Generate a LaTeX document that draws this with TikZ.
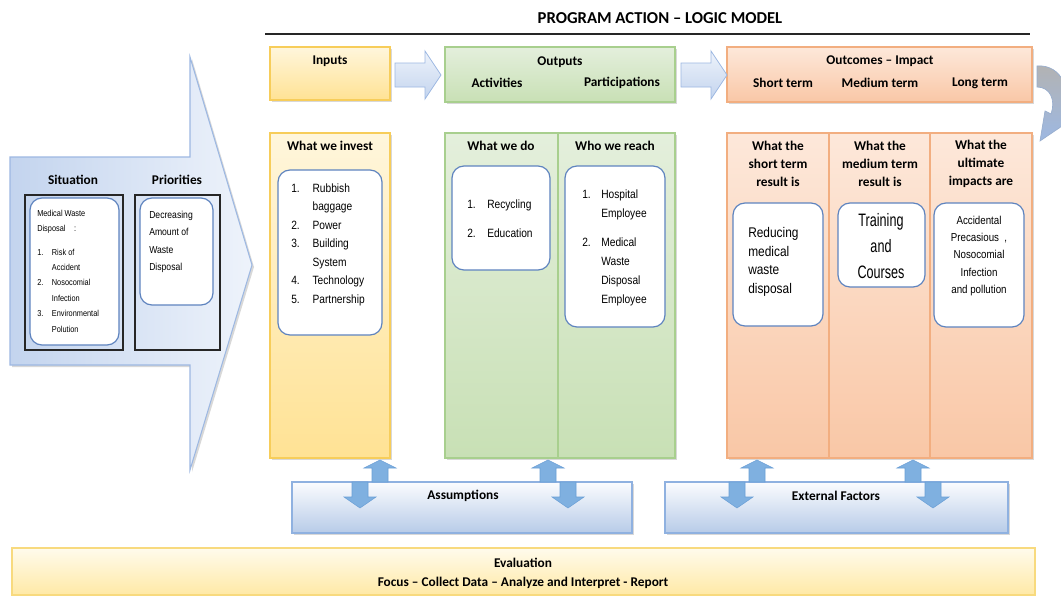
\documentclass[tikz,border=0pt]{standalone}
\usepackage{fontspec}
\setmainfont{Liberation Sans}
\newfontfamily\hfont{Carlito}
\newfontfamily\nfont[FakeStretch=0.85]{Liberation Sans}
\newfontfamily\vnfont[FakeStretch=0.7]{Liberation Sans}
\usetikzlibrary{fit,shadows}
\definecolor{yelT}{HTML}{FFF6DC}
\definecolor{yelBot}{HTML}{FFE294}
\definecolor{yelB}{HTML}{F7CD5A}
\definecolor{grnT}{HTML}{E4EFDC}
\definecolor{grnBot}{HTML}{C8E0B5}
\definecolor{grnB}{HTML}{A8CF8E}
\definecolor{orgT}{HTML}{FDE8DA}
\definecolor{orgBot}{HTML}{F9C7A6}
\definecolor{orgB}{HTML}{F2AE80}
\definecolor{arrT}{HTML}{EEF3FB}
\definecolor{arrBot}{HTML}{C3D4EE}
\definecolor{arrB}{HTML}{9DB8E2}
\definecolor{inB}{HTML}{5F84BF}
\definecolor{sArr}{HTML}{7FB0E0}
\definecolor{sArrB}{HTML}{6A9FD6}
\definecolor{asmT}{HTML}{FBFCFE}
\definecolor{asmBot}{HTML}{B7CBE8}
\definecolor{asmB}{HTML}{8FB1E0}
\definecolor{evT}{HTML}{FFFBEC}
\definecolor{evBot}{HTML}{FFE9A6}
\definecolor{evB}{HTML}{F8DA7E}
\tikzset{
  hdr/.style={font=\hfont\bfseries\fontsize{10}{13.5}\selectfont, inner sep=0pt, align=center},
  shd/.style={drop shadow={opacity=0.3, shadow xshift=1.5pt, shadow yshift=-1.5pt}},
  ybox/.style={draw=yelB, line width=0.8pt, top color=yelT, bottom color=yelBot, inner sep=0pt, shd},
  gbox/.style={draw=grnB, line width=0.8pt, top color=grnT, bottom color=grnBot, inner sep=0pt, shd},
  obox/.style={draw=orgB, line width=0.8pt, top color=orgT, bottom color=orgBot, inner sep=0pt, shd},
  abox/.style={draw=asmB, line width=0.8pt, top color=asmT, bottom color=asmBot, inner sep=0pt, shd},
  inbox/.style={draw=inB, line width=0.9pt, rounded corners=9pt, fill=white, inner sep=0pt},
  blkbox/.style={draw=black!85, line width=1.2pt, inner sep=0pt},
  barrow/.style={draw=arrB, line width=0.6pt, top color=arrT, bottom color=arrBot},
  sarrow/.style={fill=sArr, draw=sArrB, line width=0.4pt},
  lst/.style={inner sep=0pt, anchor=north west, align=left},
}
\newcommand\myup[3]{\path[sarrow] (#1,#2) -- (#1+16,#2+8) -- (#1+8,#2+8) -- (#1+8,#3) -- (#1-8,#3) -- (#1-8,#2+8) -- (#1-16,#2+8) -- cycle;}
\newcommand\mydown[3]{\path[sarrow] (#1-8,#2) -- (#1+8,#2) -- (#1+8,#3-11) -- (#1+16,#3-11) -- (#1,#3) -- (#1-16,#3-11) -- (#1-8,#3-11) -- cycle;}
\begin{document}
\begin{tikzpicture}[x=0.75pt,y=-0.75pt]
\useasboundingbox[fill=white] (0,0) rectangle (1061,596);

% title
\node[font=\hfont\bfseries\fontsize{12.5}{15}\selectfont, inner sep=0pt] (title) at (660,18) {PROGRAM ACTION – LOGIC MODEL};
\coordinate (ruleL) at (265,34);
\coordinate (ruleR) at (1030,34);
\draw[line width=2pt, black!85] (ruleL) -- (ruleR);

% big left arrow
\path[draw=arrB, line width=0.8pt, left color=arrBot, right color=arrT, shd]
  (10,157) -- (190,157) -- (190,57) -- (252,265) -- (190,470) -- (190,365) -- (10,365) -- cycle;

\node[hdr] (sitH) at (73,180) {Situation};
\node[hdr] (priH) at (177,180) {Priorities};
\node[blkbox, fit={(25,195) (123,350)}] (sitB) {};
\node[blkbox, fit={(135,195) (220,350)}] (priB) {};
\node[inbox, fit={(30,198) (119,345)}] (sitI) {};
\node[inbox, fit={(140,198) (213,305)}] (priI) {};
\node[lst, font=\nfont\fontsize{6.5}{11.6}\selectfont] (sitT) at (37,205) {%
  \begin{tabular}{@{}p{11pt}@{}l@{}}
  \multicolumn{2}{@{}l@{}}{Medical Waste}\\
  \multicolumn{2}{@{}l@{}}{Disposal\quad :}\\[6pt]
  1. & Risk of\\
     & Accident\\
  2. & Nosocomial\\
     & Infection\\
  3. & Environmental\\
     & Polution
  \end{tabular}};
\node[lst, font=\nfont\fontsize{7.6}{13}\selectfont] (priT) at (149,211) {Decreasing\\Amount of\\Waste\\Disposal};

% top row
\node[ybox, fit={(270,47) (390,100)}] (inTop) {};
\node[gbox, fit={(445,47) (675,102)}] (outTop) {};
\node[obox, fit={(727,47) (1032,102)}] (ocTop) {};
\node[hdr] (inL) at (330,61) {Inputs};
\node[hdr] (outL) at (560,62) {Outputs};
\node[hdr] (actL) at (497,83) {Activities};
\node[hdr] (parL) at (622,83) {Participations};
\node[hdr] (ocL) at (880,61) {Outcomes – Impact};
\node[hdr] (stL) at (783,83) {Short term};
\node[hdr] (mtL) at (880,83) {Medium term};
\node[hdr] (ltL) at (980,83) {Long term};

% block arrows in top row
\path[barrow] (395,63) -- (425,63) -- (425,51) -- (441,75) -- (425,99) -- (425,87) -- (395,87) -- cycle;
\path[barrow] (681,63) -- (711,63) -- (711,51) -- (727,75) -- (711,99) -- (711,87) -- (681,87) -- cycle;

% curved arrow at right
\path[draw=arrB!80!gray, line width=0.5pt, top color=black!30, bottom color=arrB]
  (1037,66) .. controls (1062,64) and (1074,92) .. (1062,118)
  -- (1068,122) -- (1040,141) -- (1045,111) -- (1051,114)
  .. controls (1056,100) and (1050,87) .. (1037,87) -- cycle;

% columns
\node[ybox, fit={(270,133) (390,458)}] (inCol) {};
\node[gbox, fit={(445,133) (558,458)}] (doCol) {};
\node[gbox, fit={(558,133) (675,458)}] (reCol) {};
\node[obox, fit={(727,133) (829,458)}] (stCol) {};
\node[obox, fit={(829,133) (930,458)}] (mtCol) {};
\node[obox, fit={(930,133) (1032,458)}] (ltCol) {};

\node[hdr] (inH) at (330,146) {What we invest};
\node[hdr] (doH) at (501,146) {What we do};
\node[hdr] (reH) at (615,146) {Who we reach};
\node[hdr] (stH) at (778,164) {What the\\short term\\result is};
\node[hdr] (mtH) at (880,164) {What the\\medium term\\result is};
\node[hdr] (ltH) at (981,164) {What the\\ultimate\\impacts are};

% inner boxes
\node[inbox, fit={(278,170) (382,335)}] (inI) {};
\node[inbox, fit={(452,166) (550,270)}] (doI) {};
\node[inbox, fit={(565,166) (665,327)}] (reI) {};
\node[inbox, fit={(733,203) (823,326)}] (stI) {};
\node[inbox, fit={(838,203) (925,287)}] (mtI) {};
\node[inbox, fit={(934,203) (1024,327)}] (ltI) {};

\node[lst, font=\nfont\fontsize{9}{13.9}\selectfont] (inT) at (291,179) {%
  \begin{tabular}{@{}p{16pt}@{}l@{}}
  1. & Rubbish\\
     & baggage\\
  2. & Power\\
  3. & Building\\
     & System\\
  4. & Technology\\
  5. & Partnership
  \end{tabular}};
\node[lst, font=\nfont\fontsize{9}{14.3}\selectfont] (doT) at (467,195) {%
  \begin{tabular}{@{}p{15pt}@{}l@{}}
  1. & Recycling\\[7.5pt]
  2. & Education
  \end{tabular}};
\node[lst, font=\nfont\fontsize{9}{14.3}\selectfont] (reT) at (582,185) {%
  \begin{tabular}{@{}p{14.3pt}@{}l@{}}
  1. & Hospital\\
     & Employee\\[7.5pt]
  2. & Medical\\
     & Waste\\
     & Disposal\\
     & Employee
  \end{tabular}};
\node[lst, font=\nfont\fontsize{10.5}{14}\selectfont] (stT) at (748,227) {Reducing\\medical\\waste\\disposal};
\node[inner sep=0pt, align=center, font=\vnfont\fontsize{13.5}{19.5}\selectfont] (mtT) at (881,246) {Training\\and\\Courses};
\node[inner sep=0pt, align=center, font=\nfont\fontsize{8.6}{13}\selectfont] (ltT) at (979,256) {Accidental\\Precasious~ ,\\Nosocomial\\Infection\\and pollution};

% assumption / external boxes
\node[abox, fit={(292,482) (632,533)}] (asm) {};
\node[abox, fit={(665,482) (1008,533)}] (ext) {};
\node[hdr] (asmL) at (463,496) {Assumptions};
\node[hdr] (extL) at (836,496) {External Factors};

\myup{380}{460}{482}
\mydown{360}{482}{508}
\myup{548}{460}{482}
\mydown{568}{482}{508}
\myup{757}{460}{482}
\mydown{737}{482}{508}
\myup{913}{460}{482}
\mydown{933}{482}{508}

% evaluation
\node[draw=evB, line width=0.8pt, top color=evT, bottom color=evBot, inner sep=0pt, fit={(12,548) (1035,595)}] (evB) {};
\node[hdr] (evL) at (523,563) {Evaluation};
\node[hdr] (evT) at (523,583) {Focus – Collect Data – Analyze and Interpret - Report};
\end{tikzpicture}
\end{document}
